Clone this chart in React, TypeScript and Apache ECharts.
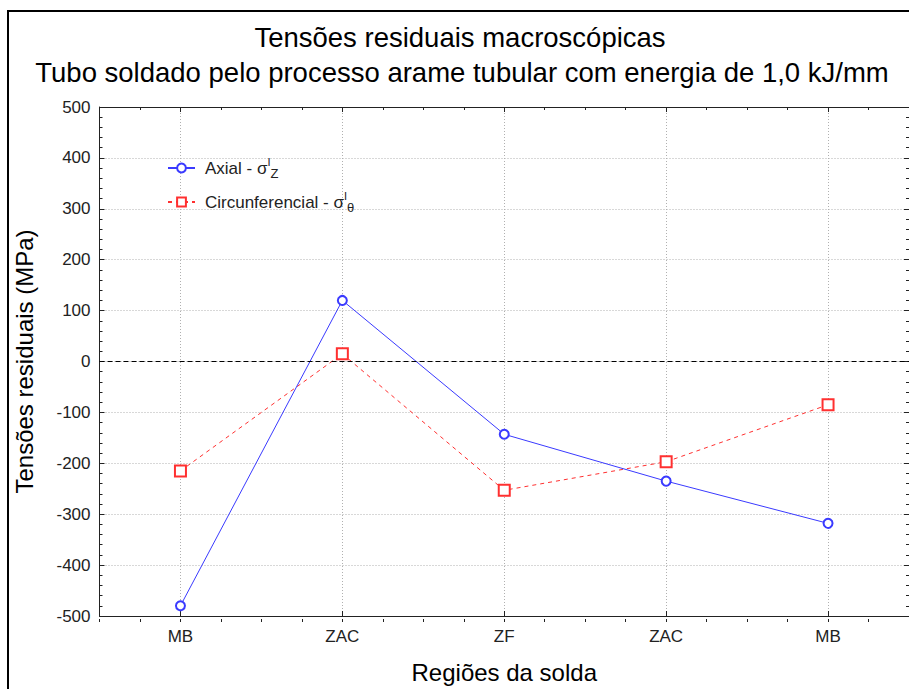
import React, { useEffect, useRef } from 'react';
import * as echarts from 'echarts';

const categories = ['MB', 'ZAC', 'ZF', 'ZAC', 'MB'];
const axialValues = [-480, 120, -143, -235, -318];
const circValues = [-215, 15, -253, -197, -85];
const seriesNames = ['Axial', 'Circunferencial'];
const titleLines = ['Tensões residuais macroscópicas', 'Tubo soldado pelo processo arame tubular com energia de 1,0 kJ/mm'];
const yMin = -500;
const yMax = 500;
const yStep = 100;

const FONT = '"Liberation Sans", Arial, sans-serif';
const AXIS = '#222';
const GRIDC = '#b0b0b0';
const BLUE = '#3a3aff';
const RED = '#ff3030';

export default function App() {
  const ref = useRef<HTMLDivElement>(null);
  useEffect(() => {
    if (!ref.current) return;
    const chart = echarts.init(ref.current, null, { renderer: 'svg' });
    const gridPos = { left: 99.5, right: -3.5, top: 107, bottom: 67 };
    const catAxisBase = {
      type: 'category',
      data: categories,
      gridIndex: 0,
      boundaryGap: true,
      axisLine: { show: true, onZero: false, lineStyle: { color: AXIS, width: 1 } },
      axisTick: { show: true, inside: true, alignWithLabel: true, length: 5, lineStyle: { color: AXIS } },
    };
    const minorAxisBase = {
      type: 'value',
      gridIndex: 1,
      min: -0.5,
      max: 4.5,
      interval: 0.25,
      axisLine: { show: false, onZero: false },
      axisTick: { show: true, inside: true, length: 3, lineStyle: { color: AXIS } },
      axisLabel: { show: false },
      splitLine: { show: false },
    };
    const option: any = {
      animation: false,
      backgroundColor: '#fff',
      textStyle: { fontFamily: FONT },
      graphic: [
        {
          type: 'rect',
          shape: { x: 8, y: 11, width: 1000, height: 1000 },
          style: { fill: 'none', stroke: '#000', lineWidth: 2 },
          silent: true,
        },
        {
          type: 'text',
          x: 460,
          y: 37,
          style: { text: titleLines[0], font: `27.5px ${FONT}`, fill: '#000', textAlign: 'center', textVerticalAlign: 'middle' },
        },
        {
          type: 'text',
          x: 462,
          y: 72,
          style: { text: titleLines[1], font: `27.5px ${FONT}`, fill: '#000', textAlign: 'center', textVerticalAlign: 'middle' },
        },
      ],
      grid: [
        { ...gridPos, containLabel: false },
        { ...gridPos, containLabel: false },
      ],
      legend: {
        orient: 'vertical',
        left: 162,
        top: 151,
        itemWidth: 27,
        itemHeight: 11,
        itemGap: 10,
        data: seriesNames,
        formatter: (name: string) =>
          name === seriesNames[0]
            ? '{t|Axial - σ}{sup|I}{sub|Z}'
            : '{t|Circunferencial - σ}{sup|I}{sub|θ}',
        textStyle: {
          fontFamily: FONT,
          fontSize: 17,
          color: AXIS,
          rich: {
            t: { fontSize: 17, color: AXIS, fontFamily: FONT, lineHeight: 24, padding: [0, 0, 0, 5] },
            sup: { fontSize: 11, color: AXIS, fontFamily: FONT, lineHeight: 10, verticalAlign: 'top' },
            sub: { fontSize: 13, color: AXIS, fontFamily: FONT, lineHeight: 12, verticalAlign: 'bottom' },
          },
        },
      },
      xAxis: [
        {
          ...catAxisBase,
          position: 'bottom',
          axisLabel: { show: true, fontSize: 17, color: AXIS, margin: 12, fontFamily: FONT },
          splitLine: { show: true, alignWithLabel: true, lineStyle: { type: [1, 2], color: GRIDC, width: 1 } },
          name: 'Regiões da solda',
          nameLocation: 'middle',
          nameGap: 44,
          nameTextStyle: { fontSize: 24, color: '#000', fontFamily: FONT },
        },
        {
          ...catAxisBase,
          position: 'top',
          axisLabel: { show: false },
          splitLine: { show: false },
        },
        { ...minorAxisBase, position: 'bottom' },
        { ...minorAxisBase, position: 'top' },
      ],
      yAxis: [
        {
          type: 'value',
          gridIndex: 0,
          position: 'left',
          min: yMin,
          max: yMax,
          interval: yStep,
          axisLine: { show: true, onZero: false, lineStyle: { color: AXIS, width: 1 } },
          axisTick: { show: true, inside: true, length: 5, lineStyle: { color: AXIS } },
          minorTick: { show: true, splitNumber: 5, length: 3, lineStyle: { color: AXIS } },
          axisLabel: { fontSize: 17, color: AXIS, margin: 9, fontFamily: FONT },
          splitLine: { show: true, lineStyle: { type: [1, 2], color: GRIDC, width: 1 } },
          name: 'Tensões residuais (MPa)',
          nameLocation: 'middle',
          nameGap: 63,
          nameTextStyle: { fontSize: 24, color: '#000', fontFamily: FONT },
        },
        {
          type: 'value',
          gridIndex: 0,
          position: 'right',
          min: yMin,
          max: yMax,
          interval: yStep,
          axisLine: { show: true, onZero: false, lineStyle: { color: AXIS, width: 1 } },
          axisTick: { show: true, inside: true, length: 5, lineStyle: { color: AXIS } },
          minorTick: { show: true, splitNumber: 5, length: 3, lineStyle: { color: AXIS } },
          axisLabel: { show: false },
          splitLine: { show: false },
        },
        { type: 'value', gridIndex: 1, min: yMin, max: yMax, show: false, axisLine: { onZero: false } },
      ],
      series: [
        {
          name: seriesNames[0],
          type: 'line',
          xAxisIndex: 0,
          yAxisIndex: 0,
          data: axialValues,
          symbol: 'emptyCircle',
          symbolSize: 9,
          color: BLUE,
          lineStyle: { color: BLUE, width: 1 },
          itemStyle: { color: BLUE, borderColor: BLUE, borderWidth: 1.3 },
          z: 3,
          markLine: {
            silent: true,
            symbol: 'none',
            label: { show: false },
            lineStyle: { type: [5, 3], color: '#000', width: 1.2 },
            data: [{ yAxis: 0 }],
          },
        },
        {
          name: seriesNames[1],
          type: 'line',
          xAxisIndex: 0,
          yAxisIndex: 0,
          data: circValues,
          symbol: 'emptyRect',
          symbolSize: 11,
          color: RED,
          lineStyle: { color: RED, width: 1, type: [4, 4] },
          itemStyle: { color: RED, borderColor: RED, borderWidth: 1.3 },
          z: 2,
        },
      ],
    };
    chart.setOption(option);
    return () => chart.dispose();
  }, []);
  return <div ref={ref} style={{ position: 'absolute', left: 0, top: 0, width: 909, height: 689 }} />;
}
